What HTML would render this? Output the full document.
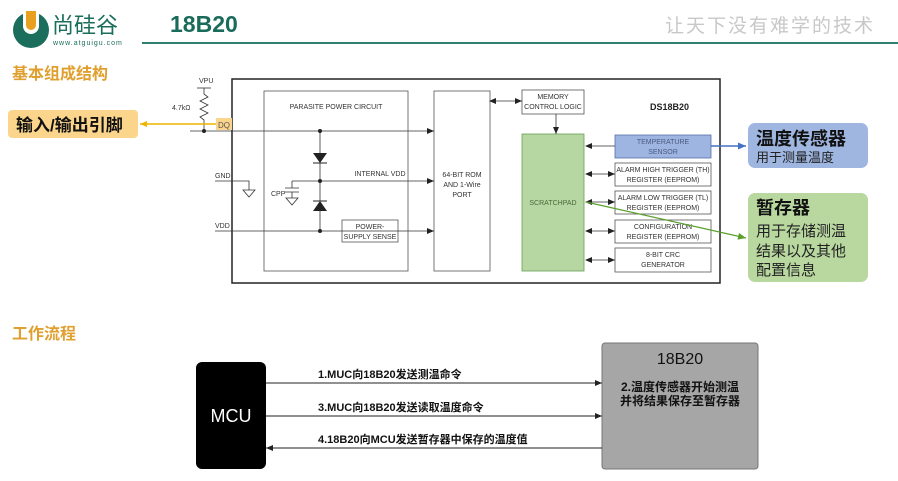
<!DOCTYPE html>
<html><head><meta charset="utf-8"><style>
body{margin:0;background:#fff;}
svg{display:block;font-family:"Liberation Sans","Noto Sans CJK SC",sans-serif;}
</style></head><body>
<svg width="898" height="481" viewBox="0 0 898 481" xmlns="http://www.w3.org/2000/svg">
<defs>
<marker id="a" markerWidth="8" markerHeight="8" refX="7" refY="4" orient="auto" markerUnits="userSpaceOnUse"><path d="M0,1 L7,4 L0,7z" fill="#222"/></marker>
<marker id="as" markerWidth="8" markerHeight="8" refX="1" refY="4" orient="auto" markerUnits="userSpaceOnUse"><path d="M7,1 L0,4 L7,7z" fill="#222"/></marker>
<marker id="ao" markerWidth="8" markerHeight="8" refX="7" refY="4" orient="auto" markerUnits="userSpaceOnUse"><path d="M0,1 L7,4 L0,7z" fill="#f0b400"/></marker>
<marker id="ab" markerWidth="9" markerHeight="9" refX="8" refY="4.5" orient="auto" markerUnits="userSpaceOnUse"><path d="M0,1 L8,4.5 L0,8z" fill="#4472c4"/></marker>
<marker id="ag" markerWidth="9" markerHeight="9" refX="8" refY="4.5" orient="auto" markerUnits="userSpaceOnUse"><path d="M0,1 L8,4.5 L0,8z" fill="#5aa02c"/></marker>
</defs>
<!-- header -->
<circle cx="31" cy="30" r="18" fill="#1c6e5c"/>
<path d="M23,11 v15 a8,8 0 0 0 16,0 v-15" fill="#fff"/>
<path d="M26,11 v14 a5,5 0 0 0 10,0 v-14z" fill="#e8a020"/>
<text x="52" y="33" font-size="22" fill="#1c6e5c">尚硅谷</text>
<text x="53" y="45" font-size="7" fill="#1c6e5c" letter-spacing="1">www.atguigu.com</text>
<text x="170" y="32" font-size="23" font-weight="bold" fill="#1a6b5a">18B20</text>
<line x1="142" y1="43" x2="898" y2="43" stroke="#2f8070" stroke-width="2"/>
<text x="665" y="32" font-size="19" fill="#c8c8c8" letter-spacing="2">让天下没有难学的技术</text>
<text x="12" y="79" font-size="16" font-weight="bold" fill="#e0a030">基本组成结构</text>
<!-- main block -->
<rect x="232" y="79" width="488" height="204" fill="none" stroke="#222" stroke-width="1.5"/>
<g fill="none" stroke="#555" stroke-width="0.8">
<rect x="264" y="91" width="144" height="180"/>
<rect x="434" y="91" width="56" height="180"/>
<rect x="522" y="90" width="62" height="24"/>
<rect x="615" y="163" width="96" height="23"/>
<rect x="615" y="191" width="96" height="23"/>
<rect x="615" y="220" width="96" height="23"/>
<rect x="615" y="248" width="96" height="24"/>
<rect x="342" y="220" width="56" height="22"/>
</g>
<rect x="522" y="134" width="62" height="137" fill="#b6d7a1" stroke="#6a9f55" stroke-width="0.8"/>
<rect x="615" y="135" width="96" height="23" fill="#9db5e0" stroke="#5570a8" stroke-width="0.8"/>
<g font-size="7" fill="#333" text-anchor="middle">
<text x="336" y="109">PARASITE POWER CIRCUIT</text>
<text x="462" y="177">64-BIT ROM</text><text x="462" y="187">AND 1-Wire</text><text x="462" y="197">PORT</text>
<text x="553" y="99">MEMORY</text><text x="553" y="109">CONTROL LOGIC</text>
<text x="553" y="205" fill="#4a6a3a">SCRATCHPAD</text>
<text x="663" y="144" fill="#4a5a80">TEMPERATURE</text><text x="663" y="154" fill="#4a5a80">SENSOR</text>
<text x="663" y="172">ALARM HIGH TRIGGER (TH)</text><text x="663" y="182">REGISTER (EEPROM)</text>
<text x="663" y="200">ALARM LOW TRIGGER (TL)</text><text x="663" y="210">REGISTER (EEPROM)</text>
<text x="663" y="229">CONFIGURATION</text><text x="663" y="239">REGISTER (EEPROM)</text>
<text x="663" y="257">8-BIT CRC</text><text x="663" y="267">GENERATOR</text>
<text x="370" y="229">POWER-</text><text x="370" y="239">SUPPLY SENSE</text>
<text x="380" y="176">INTERNAL VDD</text>
</g>
<text x="650" y="110" font-size="9" font-weight="bold" fill="#222">DS18B20</text>
<g font-size="7" fill="#333"><text x="199" y="83">VPU</text><text x="172" y="110">4.7kΩ</text><text x="215" y="178">GND</text><text x="215" y="228">VDD</text><text x="271" y="196">CPP</text></g>
<g stroke="#333" stroke-width="0.8" fill="none">
<line x1="197" y1="88" x2="211" y2="88"/>
<path d="M204,88 v6 l4,3 l-8,4 l8,4 l-8,4 l8,4 l-8,4 l4,3 v9"/>
<line x1="190" y1="131" x2="434" y2="131" marker-end="url(#a)"/>
<line x1="320" y1="131" x2="320" y2="231"/>
<line x1="320" y1="181" x2="434" y2="181" marker-end="url(#a)"/>
<line x1="215" y1="231" x2="434" y2="231" marker-end="url(#a)"/>
<path d="M215,181 H249 V190 M243,190 h12 l-6,7z"/>
<path d="M292,181 H320 M292,181 v7 M285,188 h14 M285,192 h14 M292,192 v6 M286,198 h12 l-6,7z"/>
<line x1="490" y1="101" x2="522" y2="101" marker-start="url(#as)" marker-end="url(#a)"/>
<line x1="556" y1="114" x2="556" y2="134" marker-end="url(#a)"/>
<line x1="586" y1="146" x2="615" y2="146" marker-start="url(#as)"/>
<line x1="586" y1="174" x2="615" y2="174" marker-start="url(#as)" marker-end="url(#a)"/>
<line x1="586" y1="202" x2="615" y2="202" marker-start="url(#as)" marker-end="url(#a)"/>
<line x1="586" y1="231" x2="615" y2="231" marker-start="url(#as)" marker-end="url(#a)"/>
<line x1="586" y1="260" x2="615" y2="260" marker-start="url(#as)" marker-end="url(#a)"/>
</g>
<path d="M313,153 h14 l-7,10z" fill="#222"/><line x1="313" y1="163" x2="327" y2="163" stroke="#222"/>
<path d="M313,211 h14 l-7,-10z" fill="#222"/><line x1="313" y1="201" x2="327" y2="201" stroke="#222"/>
<g fill="#222"><circle cx="204" cy="131" r="2"/><circle cx="320" cy="131" r="2"/><circle cx="320" cy="181" r="2"/><circle cx="320" cy="231" r="2"/></g>
<rect x="216" y="118" width="16" height="12" fill="#fbd58b"/>
<text x="218" y="128" font-size="8" fill="#555">DQ</text>
<line x1="216" y1="124" x2="140" y2="124" stroke="#f0b400" stroke-width="1.5" marker-end="url(#ao)"/>
<rect x="8" y="110" width="130" height="28" rx="4" fill="#fbd58b"/>
<text x="16" y="131" font-size="17" font-weight="bold" fill="#111">输入/输出引脚</text>
<line x1="711" y1="146" x2="746" y2="146" stroke="#4472c4" stroke-width="1.5" marker-end="url(#ab)"/>
<rect x="748" y="123" width="120" height="45" rx="7" fill="#9fb6e0"/>
<text x="756" y="145" font-size="18" font-weight="bold" fill="#111">温度传感器</text>
<text x="756" y="162" font-size="13" fill="#222">用于测量温度</text>
<line x1="586" y1="202" x2="746" y2="238" stroke="#5aa02c" stroke-width="1.2" marker-end="url(#ag)"/>
<rect x="748" y="193" width="120" height="89" rx="7" fill="#b8d8a0"/>
<text x="756" y="214" font-size="18" font-weight="bold" fill="#111">暂存器</text>
<text x="756" y="236" font-size="15" fill="#222">用于存储测温</text>
<text x="756" y="256" font-size="15" fill="#222">结果以及其他</text>
<text x="756" y="275" font-size="15" fill="#222">配置信息</text>
<!-- flow -->
<text x="12" y="339" font-size="16" font-weight="bold" fill="#e0a030">工作流程</text>
<rect x="196" y="362" width="70" height="107" rx="6" fill="#000"/>
<text x="231" y="422" font-size="18" fill="#fff" text-anchor="middle">MCU</text>
<rect x="602" y="343" width="156" height="126" rx="3" fill="#a6a6a6" stroke="#777"/>
<text x="680" y="364" font-size="16" fill="#111" text-anchor="middle">18B20</text>
<text x="680" y="391" font-size="12" font-weight="bold" fill="#111" text-anchor="middle">2.温度传感器开始测温</text>
<text x="680" y="405" font-size="12" font-weight="bold" fill="#111" text-anchor="middle">并将结果保存至暂存器</text>
<g stroke="#222" stroke-width="1">
<line x1="266" y1="383" x2="602" y2="383" marker-end="url(#a)"/>
<line x1="266" y1="416" x2="602" y2="416" marker-end="url(#a)"/>
<line x1="602" y1="448" x2="266" y2="448" marker-end="url(#a)"/>
</g>
<g font-size="11" font-weight="bold" fill="#111">
<text x="318" y="378">1.MUC向18B20发送测温命令</text>
<text x="318" y="411">3.MUC向18B20发送读取温度命令</text>
<text x="318" y="443">4.18B20向MCU发送暂存器中保存的温度值</text>
</g>
</svg>
</body></html>
